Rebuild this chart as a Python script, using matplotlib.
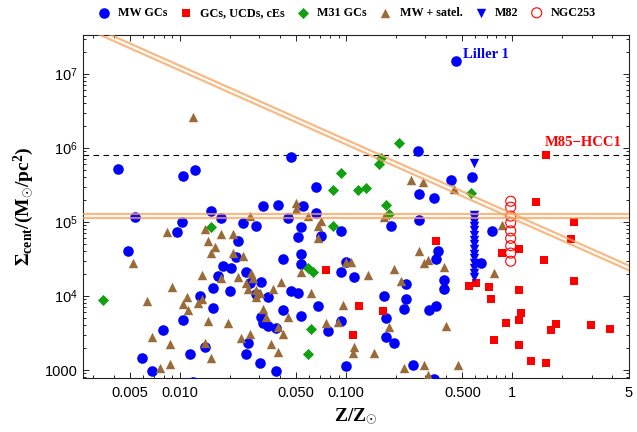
import numpy as np
import matplotlib
matplotlib.use('Agg')
import matplotlib.pyplot as plt
from matplotlib.ticker import FixedLocator, NullFormatter

plt.rcParams['font.family'] = 'Liberation Sans'
plt.rcParams['mathtext.fontset'] = 'custom'
plt.rcParams['mathtext.rm'] = 'Liberation Sans'
plt.rcParams['mathtext.bf'] = 'Liberation Serif:bold'
plt.rcParams['mathtext.it'] = 'Liberation Serif:italic'

# all values are log10(Z/Zsun), log10(Sigma_cent / Msun pc^-2)
mw_gcs = np.array([
    (-2.37, 5.72), (-1.98, 5.62), (-1.91, 5.70), (-1.33, 5.88), (-1.18, 5.47),
    (-0.57, 5.96), (-0.37, 5.57), (-0.24, 5.61), (-0.56, 5.38), (-0.47, 5.32),
    (-1.81, 5.15), (-1.50, 5.22), (-1.41, 5.23), (-1.26, 5.22), (-1.18, 5.12), (-1.75, 5.05),
    (-1.35, 5.05), (-1.99, 5.00), (-2.02, 4.86), (-2.27, 5.07), (-2.31, 4.61),
    (-1.62, 4.99), (-1.54, 4.95), (-1.27, 4.93), (-1.29, 4.80), (-1.15, 4.81), (-1.03, 4.88),
    (-1.65, 4.74), (-1.66, 4.53), (-1.38, 4.50), (-1.27, 4.57), (-1.27, 4.43),
    (-1.74, 4.41), (-1.69, 4.38), (-1.77, 4.27), (-1.60, 4.32), (-1.00, 4.46), (-1.03, 4.32), (-0.95, 4.26),
    (-0.56, 5.03), (-0.73, 4.95), (-0.12, 4.88), (-0.45, 4.61), (-0.46, 4.50), (-0.19, 4.45),
    (-0.64, 4.16), (-0.41, 4.22), (-0.41, 4.09), (-0.77, 4.00), (-0.64, 3.96),
    (-0.65, 3.82), (-0.46, 3.86), (-0.50, 3.81), (-0.76, 3.70), (-0.76, 3.45), (-0.71, 3.36),
    (-0.60, 3.07), (-0.47, 2.88),
    (-1.88, 4.00), (-1.80, 4.11), (-1.70, 4.07), (-1.80, 3.84), (-1.98, 3.68), (-2.10, 3.54),
    (-1.94, 3.22), (-1.85, 3.31), (-1.60, 3.22), (-1.59, 3.36), (-2.17, 2.99), (-1.52, 3.09),
    (-1.58, 4.18), (-1.51, 4.19), (-1.54, 4.03), (-1.47, 3.99), (-1.33, 4.07), (-1.29, 4.04),
    (-1.38, 3.81), (-1.51, 3.72), (-1.50, 3.64), (-1.47, 3.59), (-1.42, 3.57), (-1.27, 3.73),
    (-1.17, 3.86), (-1.11, 3.53), (-1.03, 3.66), (-1.42, 2.99), (-1.00, 3.05), (-2.23, 3.16),
    (-1.92, 2.84),
])
liller1 = (-0.34, 7.18)

mw_satel = np.array([
    (-1.92, 6.42), (-1.30, 5.26), (-1.30, 5.18), (-1.23, 5.08), (-1.15, 5.01), (-1.17, 4.95),
    (-1.17, 4.78), (-0.61, 5.57), (-0.54, 5.54), (-0.35, 5.45),
    (-2.08, 4.86), (-1.85, 4.91), (-1.83, 4.74), (-1.79, 4.66), (-1.81, 4.58), (-1.75, 4.84),
    (-1.68, 4.84), (-1.68, 4.58), (-1.62, 4.54), (-1.58, 5.08),
    (-2.28, 4.45), (-1.87, 4.28), (-1.75, 4.24), (-1.65, 4.26), (-1.57, 4.31), (-1.56, 4.24),
    (-1.60, 4.18), (-1.59, 4.09), (-1.54, 4.08), (-1.54, 3.99),
    (-1.52, 4.04), (-1.44, 4.09), (-1.39, 4.19), (-2.05, 4.12), (-1.96, 3.99), (-1.98, 3.89),
    (-1.95, 3.81), (-1.89, 3.91), (-1.87, 3.96), (-2.20, 3.93),
    (-1.83, 3.66), (-1.71, 3.64), (-1.50, 3.82), (-1.48, 3.72), (-1.41, 3.58), (-1.38, 3.49),
    (-1.35, 3.72), (-1.21, 4.04), (-1.27, 4.32),
    (-2.17, 3.45), (-2.06, 3.35), (-1.85, 3.36), (-1.63, 3.43), (-1.58, 3.49), (-1.45, 3.35),
    (-1.41, 3.24), (-2.06, 3.08), (-2.12, 3.03), (-1.81, 3.16),
    (-1.12, 3.64), (-1.05, 3.65), (-1.02, 3.88), (-1.00, 4.46), (-0.97, 4.46), (-0.95, 3.31),
    (-0.96, 3.23),
    (-0.77, 5.07), (-0.06, 4.96), (-0.56, 4.61), (-0.51, 4.49), (-0.53, 4.45), (-0.41, 4.39),
    (-0.87, 4.28), (-0.71, 4.36), (-0.67, 4.20), (-0.11, 4.31),
    (-0.74, 3.58), (-0.40, 3.59), (-0.83, 3.23), (-0.65, 3.03), (-0.53, 3.07), (-0.51, 2.93),
    (-0.33, 3.07),
])

m31_gcs = np.array([
    (-1.03, 5.66), (-1.08, 5.43), (-0.93, 5.43), (-0.68, 6.07), (-0.79, 5.86), (-0.80, 5.78),
    (-0.88, 5.46), (-0.76, 5.23), (-0.74, 5.11), (-0.25, 5.39), (-2.46, 3.95), (-1.81, 4.93),
    (-1.08, 4.95), (-1.23, 4.38), (-1.20, 4.32), (-1.21, 3.55), (-1.23, 3.22),
])

ucds = np.array([
    (0.14, 5.27), (-1.12, 4.35), (-0.92, 3.86), (-0.96, 3.47), (0.37, 5.00), (0.35, 4.77),
    (-0.46, 4.74), (-0.06, 4.58), (0.04, 4.64), (0.19, 4.49), (0.37, 4.20), (-0.26, 4.14),
    (-0.22, 4.18), (-0.14, 4.12), (0.04, 4.08), (-0.13, 3.96), (-0.78, 3.80), (0.05, 3.77),
    (0.04, 3.68), (-0.04, 3.64), (0.26, 3.62), (0.23, 3.54), (0.47, 3.61), (0.59, 3.55),
    (-0.11, 3.41), (0.04, 3.34), (0.11, 3.12), (0.20, 3.09),
])
hcc1 = (0.20, 5.91)

m82_logz = -0.23
m82_logsig = [5.80, 5.09, 5.05, 5.00, 4.95, 4.89, 4.82, 4.76, 4.70, 4.64, 4.57, 4.51,
              4.45, 4.38, 4.31, 4.26]
ngc253_logz = -0.01
ngc253_logsig = [5.28, 5.20, 5.08, 4.99, 4.88, 4.78, 4.68, 4.58, 4.47]

# critical surface density and its Z^-1 scaling
log_sig_crit = 5.08
crit_slope = -1.0

xticks = [0.005, 0.01, 0.05, 0.1, 0.5, 1, 5]
xticklabels = ['0.005', '0.010', '0.050', '0.100', '0.500', '1', '5']
yticks = [1e3, 1e4, 1e5, 1e6, 1e7]
yticklabels = ['1000', '$10^{4}$', '$10^{5}$', '$10^{6}$', '$10^{7}$']

blue = '#0000ff'
red = '#ff0000'
green = '#10a010'
brown = '#9a6a38'
orange = '#f5a35c'

fig = plt.figure(figsize=(6.37, 4.32), dpi=100)
ax = fig.add_axes([83/637, 1 - 378/432, (629 - 83)/637, (378 - 35)/432])
ax.set_xscale('log')
ax.set_yscale('log')

mw = np.vstack([mw_gcs, [liller1]])
ucd = np.vstack([ucds, [hcc1]])

h1 = ax.scatter(10**mw[:, 0], 10**mw[:, 1], s=58, marker='o', color=blue, lw=0, zorder=3)
h2 = ax.scatter(10**ucd[:, 0], 10**ucd[:, 1], s=28, marker='s', color=red, lw=0, zorder=3)
h3 = ax.scatter(10**m31_gcs[:, 0], 10**m31_gcs[:, 1], s=32, marker='D', color=green, lw=0, zorder=3)
h4 = ax.scatter(10**mw_satel[:, 0], 10**mw_satel[:, 1], s=46, marker='^', color=brown, lw=0, zorder=3)
h5 = ax.scatter(np.full(len(m82_logsig), 10**m82_logz), 10**np.array(m82_logsig), s=46,
                marker='v', color=blue, lw=0, zorder=3)
h6 = ax.scatter(np.full(len(ngc253_logsig), 10**ngc253_logz), 10**np.array(ngc253_logsig), s=52,
                marker='o', facecolor='none', edgecolor=red, lw=0.8, zorder=3)

xlim = (10**-2.583, 5.03)
ylim = (10**2.892, 10**7.527)

# double orange lines
zz = np.logspace(-3, 1, 50)
for off in (-0.032, 0.032):
    ax.axhline(10**(log_sig_crit + off), color=orange, lw=1.6, alpha=0.75, zorder=4)
    ax.plot(zz, 10**(log_sig_crit + off + crit_slope * np.log10(zz)), color=orange, lw=1.6,
            alpha=0.75, zorder=4)

ax.axhline(10**hcc1[1], color='black', lw=0.8, dashes=(5, 4), zorder=2)

ax.annotate('Liller 1', xy=(10**liller1[0], 10**liller1[1]), xytext=(5.5, 4.5),
            textcoords='offset points', ha='left', va='center', color=blue,
            fontsize=10.5, fontweight='bold', family='Liberation Serif')
ax.annotate('M85\u2212HCC1', xy=(10**hcc1[0], 10**hcc1[1]), xytext=(-0.7, 8.8),
            textcoords='offset points', ha='left', va='center', color=red,
            fontsize=10.5, fontweight='bold', family='Liberation Serif')

ax.set_xlim(*xlim)
ax.set_ylim(*ylim)

ax.xaxis.set_major_locator(FixedLocator(xticks))
ax.set_xticklabels(xticklabels)
xminor = [m * 10.0**e for e in range(-3, 1) for m in range(1, 10)]
xminor = [v for v in xminor if v not in xticks]
ax.xaxis.set_minor_locator(FixedLocator(xminor))
ax.xaxis.set_minor_formatter(NullFormatter())

ax.yaxis.set_major_locator(FixedLocator(yticks))
ax.set_yticklabels(yticklabels)
yminor = [m * 10.0**e for e in range(2, 8) for m in range(2, 10)]
ax.yaxis.set_minor_locator(FixedLocator(yminor))
ax.yaxis.set_minor_formatter(NullFormatter())

ax.tick_params(which='both', direction='in', top=True, right=True, labelsize=10.5,
               color='#222222', width=0.7)
ax.tick_params(which='major', length=4.5)
ax.tick_params(which='minor', length=2.5)
ax.tick_params(axis='x', which='major', pad=6)
ax.tick_params(axis='y', which='major', pad=4)
for sp in ax.spines.values():
    sp.set_linewidth(0.8)
    sp.set_color('#222222')

ax.set_xlabel(r'$\mathbf{Z/Z_{\odot}}$', fontsize=14, labelpad=4)
ax.set_ylabel(r'$\mathbf{\Sigma_{cent}/(M_{\odot}/pc^{2})}$', fontsize=14, labelpad=6)

fig.legend([h1, h2, h3, h4, h5, h6],
           ['MW GCs', 'GCs, UCDs, cEs', 'M31 GCs', 'MW + satel.', 'M82', 'NGC253'],
           loc='center', bbox_to_anchor=(347/637, 1 - 13/432), ncol=6, frameon=False,
           handlelength=1.0, handletextpad=0.7, columnspacing=1.0, borderaxespad=0,
           prop={'family': 'Liberation Serif', 'weight': 'bold', 'size': 8.7})

fig.savefig('out.png', dpi=100)
